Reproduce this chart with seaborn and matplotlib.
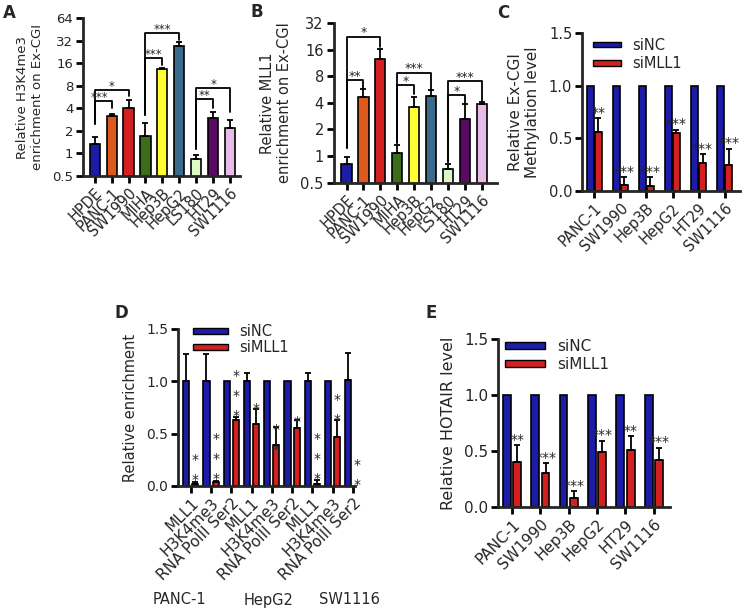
import numpy as np
import pandas as pd
import matplotlib
matplotlib.use("Agg")
import matplotlib.pyplot as plt
from matplotlib.patches import Patch
import seaborn as sns

sns.set_style("ticks")
plt.rcParams['font.family'] = ['DejaVu Sans']

# ---- panels A / B: nine cell lines ----
lines_ab = ["HPDE", "PANC-1", "SW1990", "MIHA", "Hep3B", "HepG2", "LS180", "HT29", "SW1116"]
line_colors = ["#1c1ca6", "#dc5a1e", "#d42020", "#3a6e1a", "#ffff33",
               "#3a6a8c", "#dcf8c4", "#5a0a64", "#e8bce8"]

h3k4_mean = [1.33, 3.2, 4.0, 1.7, 13.4, 26.8, 0.85, 3.0, 2.2]
h3k4_top = [1.67, 3.4, 5.2, 2.57, 14.0, 31.0, 0.94, 3.6, 2.83]

mll1_mean = [0.82, 4.64, 12.6, 1.09, 3.55, 4.75, 0.72, 2.62, 3.84]
mll1_top = [0.98, 5.7, 16.2, 1.33, 4.7, 5.6, 0.82, 3.9, 4.08]

log_ticks_a = [0.5, 1, 2, 4, 8, 16, 32, 64]
log_ticks_b = [0.5, 1, 2, 4, 8, 16, 32]

# significance brackets (left bar, right bar, height, left leg end, right leg end, label)
brk_a_left = [0, 0, 3, 3, 6, 6]
brk_a_right = [1, 2, 4, 5, 7, 8]
brk_a_y = [5.0, 7.0, 18.9, 40.0, 5.25, 7.4]
brk_a_lo = [2.46, 2.46, 3.3, 3.3, 1.16, 1.16]
brk_a_ro = [4.0, 5.9, 15.1, 32.7, 4.0, 3.6]
brk_a_lab = ["***", "*", "***", "***", "**", "*"]

brk_b_left = [0, 0, 3, 3, 6, 6]
brk_b_right = [1, 2, 4, 5, 7, 8]
brk_b_y = [7.2, 22.5, 6.37, 8.8, 4.9, 7.1]
brk_b_lo = [1.22, 1.22, 1.4, 1.4, 0.86, 0.86]
brk_b_ro = [5.7, 17.0, 5.1, 5.6, 3.95, 4.23]
brk_b_lab = ["**", "*", "*", "***", "*", "***"]

# ---- panels C / E: six cell lines, siNC vs siMLL1 ----
lines_ce = ["PANC-1", "SW1990", "Hep3B", "HepG2", "HT29", "SW1116"]
meth_nc = [1.0, 1.0, 1.0, 1.0, 1.0, 1.0]
meth_si = [0.56, 0.06, 0.05, 0.55, 0.27, 0.25]
meth_si_top = [0.69, 0.13, 0.13, 0.58, 0.35, 0.40]
meth_stars = ["**", "***", "***", "***", "***", "***"]

hot_nc = [1.0, 1.0, 1.0, 1.0, 1.0, 1.0]
hot_si = [0.40, 0.30, 0.08, 0.49, 0.51, 0.42]
hot_si_top = [0.55, 0.39, 0.14, 0.59, 0.63, 0.53]
hot_stars = ["**", "***", "***", "***", "**", "***"]

# ---- panel D: ChIP targets in three cell lines ----
groups_d = ["PANC-1", "HepG2", "SW1116"]
targets_d = ["MLL1", "H3K4me3", "RNA PolII Ser2"] * 3
enr_nc = [1.0, 1.0, 1.0, 1.0, 1.0, 1.0, 1.0, 1.0, 1.01]
enr_nc_top = [1.26, 1.26, 1.0, 1.08, 1.0, 1.0, 1.08, 1.0, 1.27]
enr_si = [0.02, 0.04, 0.634, 0.59, 0.39, 0.55, 0.02, 0.47, 0.0]
enr_si_top = [0.04, 0.05, 0.66, 0.74, 0.56, 0.63, 0.06, 0.63, 0.0]
enr_stars = ["**", "***", "***", "*", "**", "*", "***", "**", "**"]
enr_star_y = [0.11, 0.12, 0.72, 0.79, 0.40, 0.66, 0.12, 0.685, 0.06]

blue = "#1c1ca6"
red = "#d42020"


def style(ax, fs):
    for s in ["top", "right"]:
        ax.spines[s].set_visible(False)
    for s in ["left", "bottom"]:
        ax.spines[s].set_linewidth(2)
    ax.tick_params(width=2, length=5, labelsize=fs, color="black", pad=2)


def add_err(ax, bars, tops):
    for bar, t in zip(bars, tops):
        h = bar.get_height()
        if t > h:
            xc = bar.get_x() + bar.get_width() / 2
            ax.errorbar(xc, h, yerr=[[0], [t - h]], fmt="none", ecolor="black",
                        elinewidth=1.3, capsize=2.5, capthick=1.3)


def brackets(ax, xl, xr, ys, lo, ro, labs, fs, first_dx=0):
    for i, (a, b, y, l, r, s) in enumerate(zip(xl, xr, ys, lo, ro, labs)):
        ax.plot([a, a, b, b], [l, y, y, r], color="black", lw=1.3)
        dx = first_dx if i == 0 else 0
        ax.annotate(s, ((a + b) / 2, y), xytext=(dx, -2), textcoords="offset points",
                    ha="center", va="bottom", fontsize=fs)


def single_panel(ax, means, tops, ticks, ylab, ylab_fs, tick_fs, xtick_fs, xlim):
    sns.barplot(x=lines_ab, y=means, hue=lines_ab, palette=line_colors, legend=False,
                saturation=1, width=0.6, edgecolor="black", linewidth=1.2,
                errorbar=None, ax=ax)
    ax.set_yscale("log", base=2)
    bars = sorted(ax.patches, key=lambda p: p.get_x())
    add_err(ax, bars, tops)
    ax.set_ylim(ticks[0], ticks[-1])
    ax.set_yticks(ticks)
    ax.set_yticklabels([f"{t:g}" for t in ticks])
    ax.yaxis.set_minor_locator(matplotlib.ticker.NullLocator())
    ax.set_xlim(*xlim)
    ax.set_xticks(range(len(lines_ab)))
    ax.set_xlabel("")
    ax.set_ylabel(ylab, fontsize=ylab_fs, labelpad=6)
    style(ax, tick_fs)
    ax.set_xticklabels(lines_ab, rotation=45, ha="right", rotation_mode="anchor", fontsize=xtick_fs)


def grouped_panel(ax, labels, nc, si, nc_top, si_top, width, gap, xlim, tick_fs, xtick_fs):
    n = len(nc)
    df = pd.DataFrame({"pos": list(range(n)) * 2, "val": list(nc) + list(si),
                       "grp": ["siNC"] * n + ["siMLL1"] * n})
    sns.barplot(data=df, x="pos", y="val", hue="grp", palette=[blue, red], saturation=1,
                width=width, gap=gap, edgecolor="black", linewidth=1.2, errorbar=None,
                legend=False, ax=ax)
    add_err(ax, ax.containers[0], nc_top)
    add_err(ax, ax.containers[1], si_top)
    ax.set_ylim(0, 1.5)
    ax.set_yticks([0, 0.5, 1.0, 1.5])
    ax.set_yticklabels(["0.0", "0.5", "1.0", "1.5"])
    ax.set_xlim(*xlim)
    ax.set_xticks(range(n))
    ax.set_xlabel("")
    style(ax, tick_fs)
    ax.set_xticklabels(labels, rotation=45, ha="right", rotation_mode="anchor", fontsize=xtick_fs)


def legend(ax, anchor, fs, hl, hh, sp):
    hs = [Patch(facecolor=blue, edgecolor="black", lw=1), Patch(facecolor=red, edgecolor="black", lw=1)]
    ax.legend(hs, ["siNC", "siMLL1"], loc="upper left", bbox_to_anchor=anchor, frameon=False,
              fontsize=fs, handlelength=hl, handleheight=hh, handletextpad=0.8,
              labelspacing=sp, borderaxespad=0, borderpad=0)


def top_stars(ax, bars, tops, stars, fs):
    for bar, t, s in zip(bars, tops, stars):
        xc = bar.get_x() + bar.get_width() / 2
        ax.annotate(s, (xc, t), xytext=(0, -1), textcoords="offset points",
                    ha="center", va="bottom", fontsize=fs, annotation_clip=False)


fig = plt.figure(figsize=(7.44, 6.13), dpi=100)

# A
axA = fig.add_axes([0.1116, 0.7129, 0.2110, 0.2577])
single_panel(axA, h3k4_mean, h3k4_top, log_ticks_a, "Relative H3K4me3\nenrichment on Ex-CGI",
             9.5, 9.5, 10.5, (-0.69, 8.59))
brackets(axA, brk_a_left, brk_a_right, brk_a_y, brk_a_lo, brk_a_ro, brk_a_lab, 8.5, first_dx=-3)

# B
axB = fig.add_axes([0.4483, 0.7020, 0.2198, 0.2605])
single_panel(axB, mll1_mean, mll1_top, log_ticks_b, "Relative MLL1\nenrichment on Ex-CGI",
             10.5, 10.5, 10.5, (-0.77, 8.9))
brackets(axB, brk_b_left, brk_b_right, brk_b_y, brk_b_lo, brk_b_ro, brk_b_lab, 9)

# C
axC = fig.add_axes([0.7823, 0.6884, 0.2124, 0.2577])
grouped_panel(axC, lines_ce, meth_nc, meth_si, meth_nc, meth_si_top, 0.6, 0.1,
              (-0.47, 5.59), 10.5, 10.5)
axC.set_ylabel("Relative Ex-CGI\nMethylation level", fontsize=11, labelpad=6)
top_stars(axC, axC.containers[1], meth_si_top, meth_stars, 10)
legend(axC, (0.07, 0.97), 10.5, 1.9, 0.25, 0.25)

# D
axD = fig.add_axes([0.2392, 0.2072, 0.2379, 0.2561])
grouped_panel(axD, targets_d, enr_nc, enr_si, enr_nc_top, enr_si_top, 0.9, 0.33,
              (-0.63, 8.1), 10, 11)
axD.set_ylabel("Relative enrichment", fontsize=10.5, labelpad=6)
for bar, s, y0 in zip(axD.containers[1], enr_stars, enr_star_y):
    xc = bar.get_x() + bar.get_width() / 2
    for k in range(len(s)):
        axD.annotate("*", (xc, y0), xytext=(0, 14.4 * k - 4), textcoords="offset points",
                     ha="center", va="center", fontsize=10, annotation_clip=False)
legend(axD, (0.085, 1.03), 10.5, 2.4, 0.25, 0.05)
for g, gx in zip(groups_d, [179, 269, 349]):
    fig.text(gx / 744, 1 - 600 / 613, g, ha="center", va="center", fontsize=10.5)

# E
axE = fig.add_axes([0.6694, 0.1729, 0.2312, 0.2741])
grouped_panel(axE, lines_ce, hot_nc, hot_si, hot_nc, hot_si_top, 0.74, 0.26,
              (-0.49, 5.57), 11, 11)
axE.set_ylabel("Relative HOTAIR level", fontsize=11.5, labelpad=6)
top_stars(axE, axE.containers[1], hot_si_top, hot_stars, 10)
legend(axE, (0.04, 1.0), 11, 2.6, 0.25, 0.2)

# panel letters
for lab, px, py in [("A", 3, 4), ("B", 251, 3), ("C", 497, 4), ("D", 115, 304), ("E", 425, 304)]:
    fig.text(px / 744, 1 - py / 613, lab, fontsize=12, fontweight="bold", ha="left", va="top")

fig.savefig("out.png", dpi=100)
